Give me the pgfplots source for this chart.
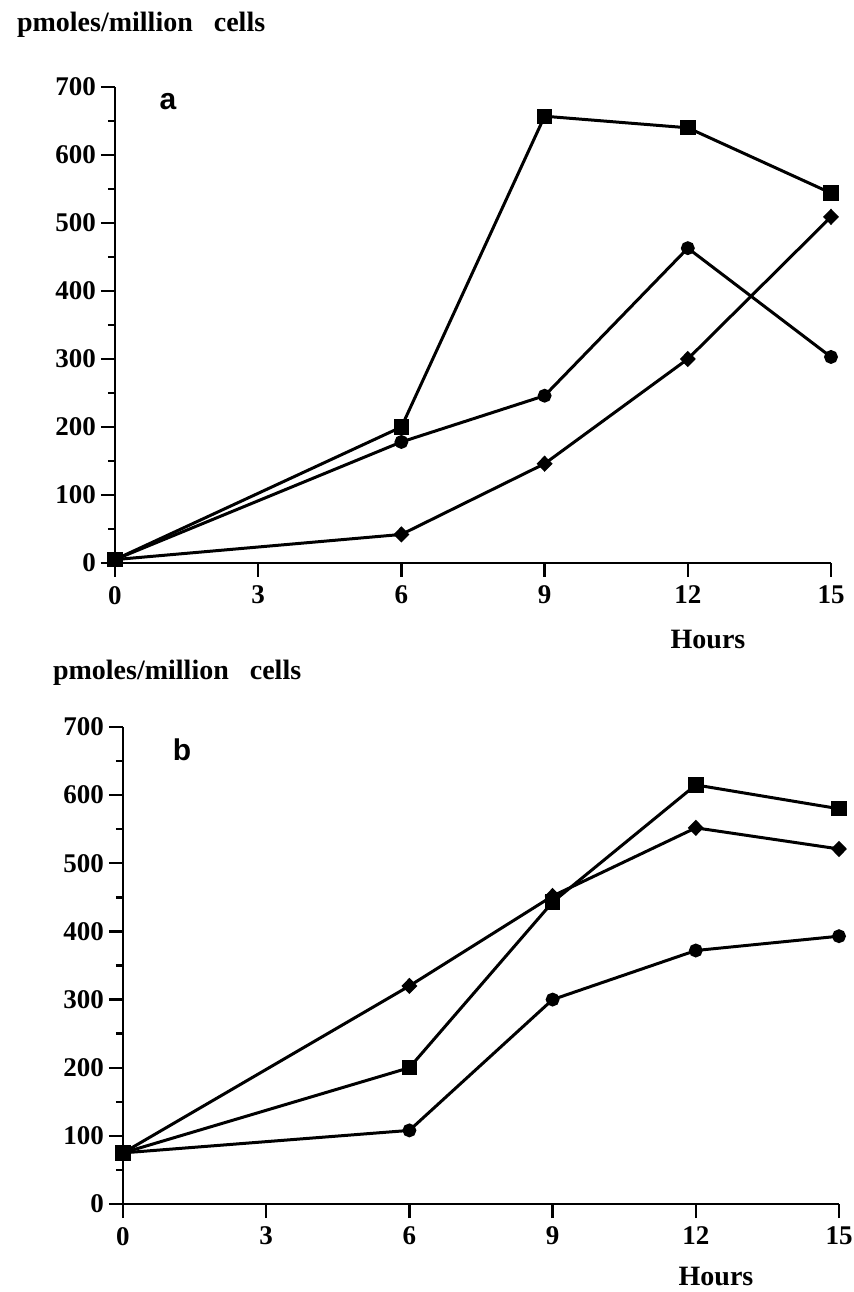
\documentclass[border=0pt]{standalone}
\usepackage{fontspec}
\setmainfont{Liberation Serif}
\newfontfamily\helv{Liberation Sans}
\usepackage{pgfplots}
\pgfplotsset{compat=1.18}

\pgfplotsset{
  panel/.style={
    scale only axis,
    anchor=south west,
    axis lines*=left,
    xmin=0, xmax=15, ymin=0, ymax=700,
    xtick={0,3,6,9,12,15},
    ytick={0,100,...,700},
    minor y tick num=1,
    tick align=outside,
    major tick length=7pt,
    minor tick length=3.5pt,
    every tick/.style={line width=1.2pt, black},
    axis line style={line width=1.2pt},
    clip=false,
    /pgf/number format/assume math mode=true,
    ticklabel style={font=\bfseries\fontsize{13.5}{13.5}\selectfont},
    yticklabel style={xshift=1pt},
    xticklabel style={yshift=-1pt},
  },
  ser/.style={black, line width=1.5pt},
  sq/.style={ser, mark=square*, mark size=3.1pt},
  ci/.style={ser, mark=*, mark size=2.7pt},
  di/.style={ser, mark=diamond*, mark size=3pt, mark options={xscale=1.3}},
}

\begin{document}
\begin{tikzpicture}
\useasboundingbox (0,0) rectangle (426.5pt,646pt);

% panel a
\begin{axis}[panel, at={(57.5pt,364.5pt)}, width=358pt, height=238pt]
  \addplot[sq] coordinates {(0,5) (6,200) (9,657) (12,640) (15,544)};
  \addplot[ci] coordinates {(0,5) (6,178) (9,246) (12,463) (15,303)};
  \addplot[di] coordinates {(0,5) (6,42) (9,146) (12,300) (15,509)};
\end{axis}

% panel b
\begin{axis}[panel, at={(61.5pt,44pt)}, width=358pt, height=238.5pt]
  \addplot[sq] coordinates {(0,75) (6,200) (9,443) (12,615) (15,580)};
  \addplot[ci] coordinates {(0,75) (6,108) (9,300) (12,372) (15,393)};
  \addplot[di] coordinates {(0,75) (6,320) (9,452) (12,552) (15,521)};
\end{axis}

\node[anchor=west, font=\bfseries\fontsize{14}{14}\selectfont] at (5pt,633.5pt) {pmoles/million\ \ \ cells};
\node[font=\helv\bfseries\fontsize{15}{15}\selectfont] at (84pt,595pt) {a};
\node[font=\bfseries\fontsize{14}{14}\selectfont] at (354pt,326pt) {Hours};

\node[anchor=west, font=\bfseries\fontsize{14}{14}\selectfont] at (23pt,309.5pt) {pmoles/million\ \ \ cells};
\node[font=\helv\bfseries\fontsize{15}{15}\selectfont] at (91pt,271pt) {b};
\node[anchor=base, inner sep=0pt, font=\bfseries\fontsize{14}{14}\selectfont] at (358pt,3pt) {Hours};
\end{tikzpicture}
\end{document}
